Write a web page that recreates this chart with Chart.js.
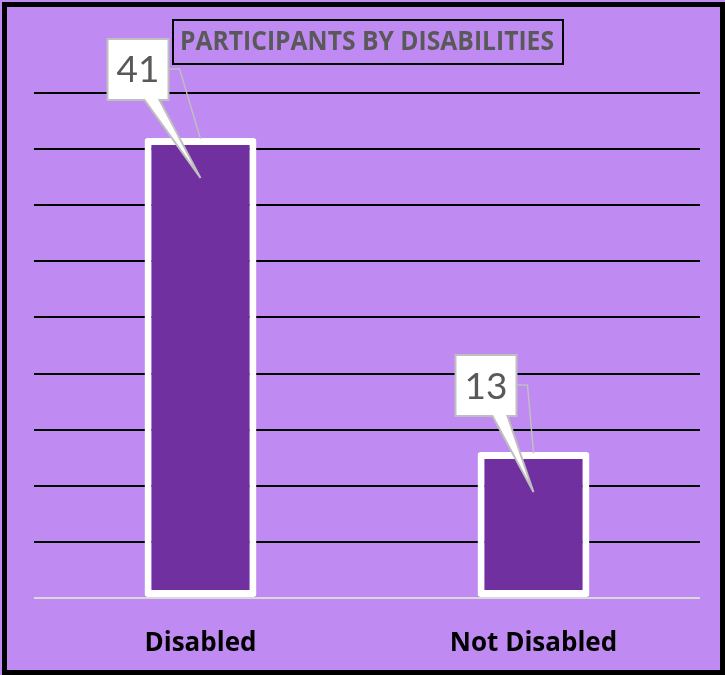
<!DOCTYPE html>
<html>
<head>
<meta charset="utf-8">
<script src="https://cdn.jsdelivr.net/npm/chart.js@4"></script>
<style>
  html, body { margin: 0; padding: 0; background: #bf8af2; }
  canvas { display: block; }
</style>
</head>
<body>
<canvas id="barChart" width="725" height="675"></canvas>
<script>
// data
var categories = ['Disabled', 'Not Disabled'];
var participants = [41, 13];
var yMax = 45;
var yStep = 5;
var chartTitle = 'PARTICIPANTS BY DISABILITIES';

// where each callout box sits relative to the top of its bar
var calloutOffsets = [[-93, -99], [-78, -97]];

var bgColor = '#bf8af2';
var barColor = '#7030a0';

// background, frame and boxed title
var framePlugin = {
    id: 'frame',
    beforeDraw: function(chart){
        var ctx = chart.ctx;
        ctx.save();
        ctx.fillStyle = bgColor;
        ctx.fillRect(0, 0, chart.width, chart.height);
        ctx.restore();
    },
    afterDraw: function(chart){
        var ctx = chart.ctx;
        ctx.save();
        // outer frame
        ctx.strokeStyle = '#000';
        ctx.lineWidth = 5;
        ctx.strokeRect(4.5, 4.5, chart.width - 7, chart.height - 7);

        // title box
        ctx.lineWidth = 2;
        ctx.strokeRect(173, 20, 390, 44);
        ctx.font = 'bold 26px "Open Sans"';
        ctx.fillStyle = '#595959';
        ctx.textBaseline = 'middle';
        var w = ctx.measureText(chartTitle).width;
        var target = 374;
        ctx.translate(180, 43);
        ctx.scale(target / w, 1);
        ctx.fillText(chartTitle, 0, 0);
        ctx.restore();
    }
};

// speech-bubble value labels
var calloutPlugin = {
    id: 'callouts',
    afterDatasetsDraw: function(chart){
        var ctx = chart.ctx;
        var meta = chart.getDatasetMeta(0);
        meta.data.forEach(function(bar, i){
            var top = bar.y;
            var cx = bar.x;
            var bx = cx + calloutOffsets[i][0];
            var by = top + calloutOffsets[i][1];
            var size = 61;
            ctx.save();
            // leader line to bar top
            ctx.strokeStyle = '#bfbfbf';
            ctx.lineWidth = 1.5;
            ctx.beginPath();
            ctx.moveTo(bx + size, by + 30);
            ctx.lineTo(bx + size + 11, by + 30);
            ctx.lineTo(cx, top + 1);
            ctx.stroke();

            // box with pointer
            ctx.beginPath();
            ctx.moveTo(bx, by);
            ctx.lineTo(bx + size, by);
            ctx.lineTo(bx + size, by + size);
            ctx.lineTo(bx + 52, by + size);
            ctx.lineTo(cx, top + 40);
            ctx.lineTo(bx + 37, by + size);
            ctx.lineTo(bx, by + size);
            ctx.closePath();
            ctx.fillStyle = '#ffffff';
            ctx.fill();
            ctx.lineWidth = 2;
            ctx.strokeStyle = '#bfbfbf';
            ctx.stroke();

            ctx.fillStyle = '#595959';
            ctx.font = '37px Lato';
            ctx.textAlign = 'center';
            ctx.textBaseline = 'middle';
            ctx.fillText(String(participants[i]), bx + size / 2, by + size / 2 + 1);
            ctx.restore();
        });
    }
};

var ctx = document.getElementById('barChart');
var barChart = new Chart(ctx, {
    type: 'bar',
    data: {
        labels: categories,
        datasets: [{
            data: participants,
            backgroundColor: barColor,
            borderColor: '#ffffff',
            borderWidth: 7,
            borderSkipped: false,
            borderRadius: 3,
            barPercentage: 0.336,
            categoryPercentage: 1
        }]
    },
    options: {
        responsive: false,
        animation: false,
        devicePixelRatio: 1,
        layout: { padding: { left: 34, right: 25, top: 93, bottom: 0 } },
        plugins: {
            legend: { display: false },
            tooltip: { enabled: false },
            title: { display: false }
        },
        scales: {
            x: {
                grid: { display: false },
                border: { display: false },
                afterFit: function(scale){ scale.height = 77; },
                ticks: {
                    color: '#000',
                    padding: 22,
                    font: { family: '"Open Sans"', weight: 'bold', size: 26 }
                }
            },
            y: {
                min: 0,
                max: yMax,
                ticks: { display: false, stepSize: yStep },
                border: { display: false },
                grid: {
                    drawTicks: false,
                    lineWidth: 2,
                    color: function(c){
                        return c.tick && c.tick.value === 0 ? '#d9d9d9' : '#000000';
                    }
                }
            }
        }
    },
    plugins: [framePlugin, calloutPlugin]
});
</script>
</body>
</html>
